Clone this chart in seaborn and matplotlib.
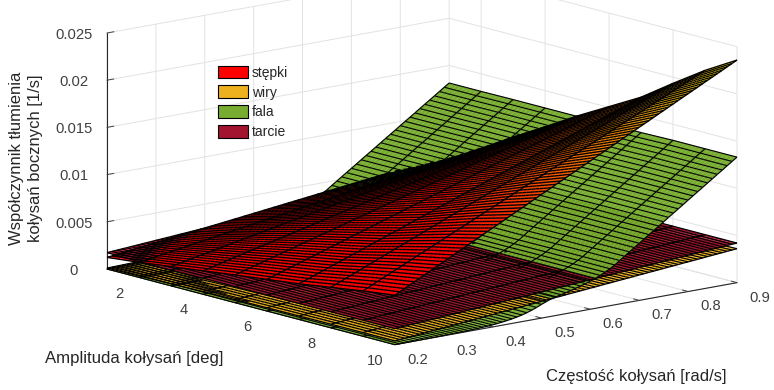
import numpy as np
import matplotlib
matplotlib.use("Agg")
import matplotlib.pyplot as plt
import seaborn as sns
from matplotlib.collections import PolyCollection
from matplotlib.patches import Patch
from matplotlib.transforms import ScaledTranslation
from mpl_toolkits.mplot3d import proj3d
from mpl_toolkits.mplot3d.art3d import Poly3DCollection

series_names = ["stępki", "wiry", "fala", "tarcie"]
series_colors = ["#FF0000", "#EDB120", "#77AC30", "#A2142F"]

amplitude = [1, 2, 3, 4, 5, 6, 7, 8, 9, 10]
omega = [0.20,0.21,0.22,0.23,0.24,0.25,0.26,0.27,0.28,0.29,0.30,0.31,0.32,0.33,0.34,0.35,0.36,0.37,
         0.38,0.39,0.40,0.41,0.42,0.43,0.44,0.45,0.46,0.47,0.48,0.49,0.50,0.51,0.52,0.53,0.54,0.55,
         0.56,0.57,0.58,0.59,0.60,0.61,0.62,0.63,0.64,0.65,0.66,0.67,0.68,0.69,0.70,0.71,0.72,0.73,
         0.74,0.75,0.76,0.77,0.78,0.79,0.80,0.81,0.82,0.83,0.84,0.85,0.86,0.87,0.88,0.89,0.90]

# values at amplitude 10 deg, in 1e-3 1/s, read along the front edge
stepki_front = [5.24,5.50,5.76,6.03,6.29,6.55,6.81,7.07,7.34,7.60,7.86,8.12,8.38,8.65,8.91,9.17,9.43,9.69,
                9.96,10.22,10.48,10.74,11.00,11.27,11.53,11.79,12.05,12.31,12.58,12.84,13.10,13.36,13.62,
                13.89,14.15,14.41,14.67,14.93,15.20,15.46,15.72,15.98,16.24,16.51,16.77,17.03,17.29,17.55,
                17.82,18.08,18.34,18.60,18.86,19.13,19.39,19.65,19.91,20.17,20.44,20.70,20.96,21.22,21.48,
                21.75,22.01,22.27,22.53,22.79,23.06,23.32,23.58]
wiry_front = [0.40,0.45,0.49,0.54,0.58,0.63,0.67,0.72,0.77,0.81,0.86,0.90,0.95,0.99,1.04,1.09,1.13,1.18,
              1.22,1.27,1.31,1.36,1.41,1.45,1.50,1.54,1.59,1.63,1.68,1.73,1.77,1.82,1.86,1.91,1.95,2.00,
              2.05,2.09,2.14,2.18,2.23,2.27,2.32,2.37,2.41,2.46,2.50,2.55,2.59,2.64,2.69,2.73,2.78,2.82,
              2.87,2.91,2.96,3.01,3.05,3.10,3.14,3.19,3.23,3.28,3.33,3.37,3.42,3.46,3.51,3.55,3.60]
fala_front = [0.00,0.00,0.00,0.00,0.01,0.01,0.01,0.02,0.02,0.03,0.03,0.04,0.05,0.06,0.07,0.08,0.10,0.12,
              0.15,0.18,0.22,0.27,0.33,0.40,0.48,0.58,0.70,0.85,1.02,1.22,1.45,1.65,1.85,1.98,2.10,2.22,
              2.36,2.50,2.65,2.80,2.98,3.18,3.40,3.64,3.92,4.22,4.60,4.96,5.33,5.69,6.05,6.41,6.78,7.14,
              7.50,7.86,8.23,8.59,8.95,9.31,9.68,10.04,10.40,10.76,11.13,11.49,11.85,12.21,12.58,12.94,13.30]
tarcie_front = [1.70,1.74,1.77,1.81,1.84,1.88,1.91,1.95,1.99,2.02,2.06,2.09,2.13,2.16,2.20,2.24,2.27,2.31,
                2.34,2.38,2.41,2.45,2.49,2.52,2.56,2.59,2.63,2.66,2.70,2.74,2.77,2.81,2.84,2.88,2.91,2.95,
                2.99,3.02,3.06,3.09,3.13,3.16,3.20,3.24,3.27,3.31,3.34,3.38,3.41,3.45,3.49,3.52,3.56,3.59,
                3.63,3.66,3.70,3.74,3.77,3.81,3.84,3.88,3.91,3.95,3.99,4.02,4.06,4.09,4.13,4.16,4.20]

# share of the front-edge value reached at each amplitude
stepki_by_amp = [0.235,0.305,0.39,0.474,0.56,0.64,0.72,0.82,0.916,1.00]
wiry_by_amp = [0.25,0.40,0.55,0.70,0.80,0.87,0.92,0.96,0.98,1.00]
fala_by_amp = [0.988,0.988,0.99,0.99,0.99,0.995,0.995,1.00,1.00,1.00]
tarcie_by_amp = [1.02,0.98,0.98,1.00,1.00,1.00,1.00,1.00,1.00,1.00]

x_ticks = [2, 4, 6, 8, 10]
y_ticks = [0.2, 0.3, 0.4, 0.5, 0.6, 0.7, 0.8, 0.9]
z_ticks = [0, 0.005, 0.01, 0.015, 0.02, 0.025]
z_ticklabels = ["0", "0.005", "0.01", "0.015", "0.02", "0.025"]

W, H = 774, 390
sns.set_theme(style="white", rc={
    "grid.color": "#e2e2e2", "grid.linewidth": 0.7,
    "xtick.color": "#404040", "ytick.color": "#404040",
    "axes.labelcolor": "#262626", "axes.edgecolor": "#262626",
})
plt.rcParams["font.family"] = ["Liberation Sans", "DejaVu Sans"]
palette = sns.color_palette(series_colors)

fig = plt.figure(figsize=(W / 100, H / 100), dpi=100, facecolor="white")
ax = fig.add_axes([0.05, 0.0, 0.9, 0.9 * W / H], projection="3d", proj_type="ortho",
                  facecolor="none")
ax.view_init(elev=12.6, azim=-39.7)
ax.set_box_aspect((451, 445, 242), zoom=1.0)


class HeightOrderedMesh(Poly3DCollection):
    """Several height fields seen from above: at any pixel the higher one is in front."""

    def do_3d_projection(self):
        flat = self._flat
        xs, ys, zs = proj3d.proj_transform(flat[:, 0], flat[:, 1], flat[:, 2], self.axes.M)
        segs = np.split(np.column_stack([xs, ys]), self._cuts)
        PolyCollection.set_verts(self, segs, False)
        self._facecolors2d = self._fc_sorted
        self._edgecolors2d = self._ec_sorted
        return np.min(zs)


SUB = 8
A = np.array(amplitude, float)
W_ = np.array(omega)
a_fine = np.concatenate([np.linspace(A[i], A[i + 1], SUB, endpoint=False) for i in range(len(A) - 1)] + [[A[-1]]])

top_cmap = plt.get_cmap("autumn")
polys, keys, fcs, ecs, lws = [], [], [], [], []
BLACK = (0.0, 0.0, 0.0, 1.0)
CLEAR = (0.0, 0.0, 0.0, 0.0)

for front, by_amp, color, graded, lift, lw_line in [
    (stepki_front, stepki_by_amp, palette[0], True, 0.0016, 0.98),
    (wiry_front, wiry_by_amp, palette[1], False, 0.00005, 0.9),
    (fala_front, fala_by_amp, palette[2], False, 0.00035, 0.82),
    (tarcie_front, tarcie_by_amp, palette[3], False, 0.00006, 0.9),
]:
    Z = np.outer(by_amp, front) * 1e-3
    Zf = np.array([np.interp(a_fine, A, Z[:, j]) for j in range(len(W_))]).T
    for i in range(len(a_fine) - 1):
        for j in range(len(W_) - 1):
            q = [(a_fine[i], W_[j], Zf[i, j]), (a_fine[i + 1], W_[j], Zf[i + 1, j]),
                 (a_fine[i + 1], W_[j + 1], Zf[i + 1, j + 1]), (a_fine[i], W_[j + 1], Zf[i, j + 1])]
            m = np.mean([p[2] for p in q])
            if graded:
                fc = top_cmap(np.clip((m - 0.009) / 0.015, 0, 1))
            else:
                fc = (*color, 1.0)
            polys.append(q); keys.append(m); fcs.append(fc); ecs.append(fc); lws.append(0.15)
    for j in range(len(W_)):
        for i in range(len(a_fine) - 1):
            q = [(a_fine[i], W_[j], Zf[i, j]), (a_fine[i + 1], W_[j], Zf[i + 1, j])]
            polys.append(q); keys.append((q[0][2] + q[1][2]) / 2 + lift)
            fcs.append(CLEAR); ecs.append(BLACK); lws.append(lw_line)
    for i in range(0, len(a_fine), SUB):
        for j in range(len(W_) - 1):
            q = [(a_fine[i], W_[j], Zf[i, j]), (a_fine[i], W_[j + 1], Zf[i, j + 1])]
            polys.append(q); keys.append((q[0][2] + q[1][2]) / 2 + lift)
            fcs.append(CLEAR); ecs.append(BLACK); lws.append(lw_line)

order = np.argsort(keys, kind="stable")
polys_sorted = [polys[k] for k in order]
mesh = HeightOrderedMesh(polys_sorted, closed=False)
mesh._flat = np.array([p for q in polys_sorted for p in q], float)
mesh._cuts = np.cumsum([len(q) for q in polys_sorted])[:-1]
mesh._fc_sorted = np.array(fcs)[order]
mesh._ec_sorted = np.array(ecs)[order]
mesh.set_linewidths(np.array(lws)[order])
ax.add_collection3d(mesh, autolim=False)
ax.set_xlim(1, 10, view_margin=0)
ax.set_ylim(0.2, 0.9, view_margin=0)
ax.set_zlim(0, 0.025, view_margin=0)

ax.set_xticks(x_ticks)
ax.set_yticks(y_ticks)
ax.set_zticks(z_ticks)
ax.set_xticklabels([str(v) for v in x_ticks])
ax.set_yticklabels([f"{v:.1f}" for v in y_ticks])
ax.set_zticklabels(z_ticklabels)
ax.zaxis.set_ticks_position("lower")
ax.tick_params(axis="both", labelsize=10.6, pad=3, colors="#404040")
for axis in (ax.xaxis, ax.yaxis, ax.zaxis):
    axis.set_pane_color((1, 1, 1, 0))
    axis.pane.set_edgecolor("#e2e2e2")
    axis.line.set_color("#262626")
    axis.line.set_linewidth(0.8)
    axis._axinfo["tick"]["inward_factor"] = 0.0
    axis._axinfo["tick"]["outward_factor"] = 0.25
    axis._axinfo["tick"]["linewidth"] = {True: 0.7, False: 0.5}
    axis._axinfo["tick"]["color"] = "#262626"
ax.grid(True)


def corner_px(a, w, z=0.0):
    ax.apply_aspect()
    xs, ys, _ = proj3d.proj_transform(np.array([a]), np.array([w]), np.array([z]), ax.get_proj())
    return ax.transData.transform((xs[0], ys[0]))


# fit the 3D box onto the figure: z=0 corners at A=1,w=.2 and A=10,w=.9
target_left = np.array([107, H - 269])
target_right = np.array([737, H - 283])
for _ in range(3):
    p0, p1 = corner_px(1, 0.2), corner_px(10, 0.9)
    s = (target_right[0] - target_left[0]) / (p1[0] - p0[0])
    pos = ax.get_position(original=True)
    wpx, hpx = pos.width * W * s, pos.height * H * s
    ax.set_position([pos.x0, pos.y0, wpx / W, hpx / H])
    p0 = corner_px(1, 0.2)
    d = target_left - p0
    pos = ax.get_position(original=True)
    ax.set_position([pos.x0 + d[0] / W, pos.y0 + d[1] / H, pos.width, pos.height])


def nudge(axis, dx_px, dy_px):
    # Axis3D.get_major_ticks resets label transforms on every call, so keep this one
    off = ScaledTranslation(dx_px / 100, dy_px / 100, fig.dpi_scale_trans)
    for tick in axis.get_major_ticks():
        tick.label1.set_transform(ax.transData + off)
        tick.label1.set_transform = lambda *_a, **_k: None


nudge(ax.xaxis, -4, 4)
nudge(ax.yaxis, 10, 6)
nudge(ax.zaxis, -5, 4.5)

handles = [Patch(facecolor=c, edgecolor="black", linewidth=0.8) for c in palette]
ax.legend(handles, series_names, loc="upper left", bbox_to_anchor=(218 / W, 1 - 65.5 / H),
          bbox_transform=fig.transFigure, frameon=False, fontsize=10, borderpad=0, borderaxespad=0,
          handlelength=2.16, handleheight=1.06, handletextpad=0.3, labelspacing=0.4,
          labelcolor="#262626")

fig.text(45 / W, 1 - 359 / H, "Amplituda kołysań [deg]", fontsize=12.1, color="#262626", va="center", ha="left")
fig.text(546 / W, 1 - 377 / H, "Częstość kołysań [rad/s]", fontsize=12, color="#262626", va="center", ha="left")
fig.text(26 / W, 1 - 158 / H, "Współczynnik tłumienia\nkołysań bocznych [1/s]", fontsize=12, color="#262626",
         rotation=90, va="center", ha="center", multialignment="center", linespacing=1.3)

fig.savefig("out.png", dpi=100)
